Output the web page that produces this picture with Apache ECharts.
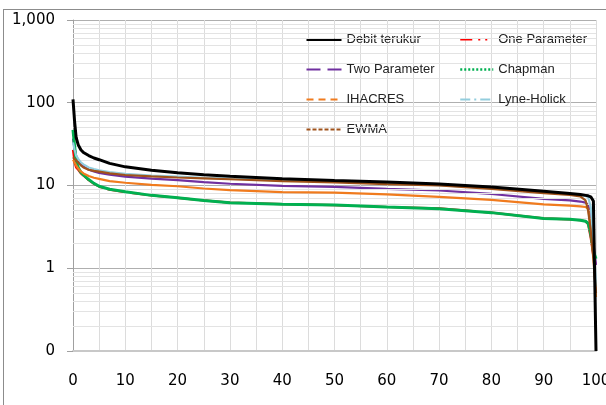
<!DOCTYPE html>
<html>
<head>
<meta charset="utf-8">
<script src="https://cdn.jsdelivr.net/npm/echarts@6/dist/echarts.min.js"></script>
<style>
  html, body { margin: 0; padding: 0; background: #fff; }
  #wrap { position: relative; width: 606px; height: 405px; overflow: hidden; }
  #chart { position: absolute; left: 0; top: 0; width: 606px; height: 405px; }
  #frame { position: absolute; left: 3px; top: 9px; width: 700px; height: 500px;
           border-left: 1px solid #8c8c8c; border-top: 1px solid #8c8c8c; pointer-events: none; }
</style>
</head>
<body>
<div id="wrap"><div id="chart"></div><div id="frame"></div></div>
<script>
// Exceedance probability (%) shared by every curve
const exceedance = [0, 0.3, 0.6, 1, 1.5, 2, 3, 4, 5, 7, 10, 15, 20, 25, 30, 40, 50, 60, 70, 80, 90, 95, 97, 98, 98.5, 99, 99.5, 100];

// Discharge (m3/s) for each curve
const debitTerukur = [110, 60, 38, 31, 27, 25, 23, 21.5, 20.5, 18.5, 16.8, 15.3, 14.3, 13.5, 12.9, 12.1, 11.5, 11.0, 10.4, 9.6, 8.5, 8.0, 7.8, 7.6, 7.5, 7.3, 6.5, 0.1];
const oneParameter = [27, 19, 16.5, 15.5, 14, 13.2, 11.6, 10.5, 9.7, 8.9, 8.3, 7.6, 7.1, 6.6, 6.2, 5.95, 5.8, 5.5, 5.3, 4.7, 4.0, 3.9, 3.8, 3.7, 3.4, 2.3, 1.4, 1.1];
const twoParameter = [37, 28, 23, 20, 18, 17, 15.5, 14.8, 14.2, 13.5, 12.8, 12.1, 11.6, 11.0, 10.5, 9.9, 9.6, 9.1, 8.7, 7.9, 6.9, 6.6, 6.4, 6.2, 5.8, 4.0, 2.0, 1.1];
const chapman = [47, 30, 20, 16.5, 14.5, 13.4, 11.8, 10.6, 9.8, 9.0, 8.4, 7.6, 7.1, 6.6, 6.2, 5.95, 5.8, 5.5, 5.25, 4.7, 4.0, 3.9, 3.8, 3.7, 3.5, 2.6, 1.6, 1.3];
const ihacres = [20.5, 19, 17.5, 16, 14.8, 14, 13, 12.4, 12.0, 11.3, 10.8, 10.2, 9.8, 9.2, 8.8, 8.3, 8.2, 7.8, 7.3, 6.7, 5.9, 5.7, 5.6, 5.5, 5.2, 3.2, 1.5, 0.45];
const lyneHolick = [33, 27, 23, 21, 19, 18, 16.5, 15.8, 15.3, 14.5, 13.8, 13.2, 12.8, 12.4, 12.1, 11.6, 11.1, 10.6, 10.1, 9.3, 8.3, 7.9, 7.7, 7.5, 7.2, 5.5, 2.2, 0.6];
const ewma = [22, 21, 20, 19, 17.5, 16.5, 15.5, 15, 14.7, 14.0, 13.4, 12.9, 12.5, 12.2, 11.9, 11.3, 10.9, 10.4, 10.0, 9.1, 8.1, 7.7, 7.4, 6.6, 5.0, 2.8, 1.3, 0.5];

// Axis ticks
const xTicks = [0, 10, 20, 30, 40, 50, 60, 70, 80, 90, 100];
const yTicks = [0.1, 1, 10, 100, 1000];
// Minor log grid values (2..9 in each decade)
const minorGrid = [0.2,0.3,0.4,0.5,0.6,0.7,0.8,0.9, 2,3,4,5,6,7,8,9, 20,30,40,50,60,70,80,90, 200,300,400,500,600,700,800,900];

const pairs = vals => exceedance.map((x, i) => [x, vals[i]]);

const curves = [
  { name: 'Debit terukur', data: debitTerukur, color: '#000000', width: 3, z: 10, legendType: 'solid', legendWidth: 3 },
  { name: 'One Parameter', data: oneParameter, color: '#FF0000', width: 2.2, z: 3, legendType: [12, 6, 2, 5, 2, 6], legendWidth: 2 },
  { name: 'Two Parameter', data: twoParameter, color: '#7030A0', width: 2.2, z: 4, legendType: [14, 7], legendWidth: 2 },
  { name: 'Chapman', data: chapman, color: '#00B050', width: 3, z: 5, legendType: [2, 2], legendWidth: 2.5 },
  { name: 'IHACRES', data: ihacres, color: '#F07B1E', width: 2.2, z: 6, legendType: [7, 5], legendWidth: 2 },
  { name: 'Lyne-Holick', data: lyneHolick, color: '#93CDDD', width: 2.2, z: 7, legendType: [10, 4, 2, 4], legendWidth: 2 },
  { name: 'EWMA', data: ewma, color: '#A0521A', width: 2.2, z: 8, legendType: [4, 2], legendWidth: 2 }
];

const series = curves.map(c => ({
  name: c.name,
  type: 'line',
  data: pairs(c.data),
  showSymbol: false,
  symbol: 'none',
  z: c.z,
  color: c.color,
  lineStyle: { color: c.color, width: c.width, type: 'solid' },
  emphasis: { disabled: true },
  animation: false
}));

// Light minor grid lines for the log axis
series.push({
  name: 'minor-grid',
  type: 'line',
  data: [],
  z: 1,
  silent: true,
  animation: false,
  markLine: {
    silent: true,
    symbol: ['none', 'none'],
    label: { show: false },
    lineStyle: { color: '#E3E3E3', width: 1, type: 'solid' },
    emphasis: { disabled: true },
    data: minorGrid.map(v => ({ yAxis: v })),
    animation: false
  }
});

// Legend entries: dashed line samples, no marker
const legendItem = c => ({
  name: c.name,
  itemStyle: { color: 'rgba(0,0,0,0)', borderWidth: 0, opacity: 0 },
  lineStyle: { color: c.color, width: c.legendWidth, type: c.legendType, opacity: 1 }
});

const legendCommon = {
  orient: 'vertical',
  itemWidth: 35,
  itemHeight: 14,
  itemGap: 17,
  padding: 0,
  selectedMode: false,
  textStyle: { fontFamily: 'Liberation Sans', fontSize: 13, color: '#222' }
};

const chart = echarts.init(document.getElementById('chart'), null, { renderer: 'canvas' });
chart.setOption({
  animation: false,
  backgroundColor: '#ffffff',
  grid: { left: 73, right: 10, top: 20, bottom: 54, containLabel: false, outerBoundsMode: 'none' },
  legend: [
    Object.assign({}, legendCommon, {
      left: 305, top: 33,
      data: [curves[0], curves[2], curves[4], curves[6]].map(legendItem)
    }),
    Object.assign({}, legendCommon, {
      left: 459, top: 33, itemWidth: 33,
      data: [curves[1], curves[3], curves[5]].map(legendItem)
    })
  ],
  xAxis: {
    type: 'value',
    min: 0,
    max: 100,
    interval: 5,
    axisLine: { show: true, onZero: false, lineStyle: { color: '#C8C8C8', width: 2 } },
    axisTick: { show: false },
    axisLabel: {
      margin: 23,
      fontFamily: 'DejaVu Sans',
      fontSize: 15,
      color: '#000',
      formatter: v => (xTicks.indexOf(v) >= 0 ? String(v) : '')
    },
    splitLine: { show: true, lineStyle: { color: '#DCDCDC', width: 1 } }
  },
  yAxis: {
    type: 'log',
    logBase: 10,
    min: yTicks[0],
    max: yTicks[yTicks.length - 1],
    axisLine: { show: true, lineStyle: { color: '#A0A0A0', width: 1 } },
    axisTick: { show: true, inside: false, length: 6, lineStyle: { color: '#A0A0A0' } },
    axisLabel: {
      margin: 18,
      fontFamily: 'DejaVu Sans',
      fontSize: 15,
      color: '#000',
      formatter: v => (v < 1 ? '0' : Math.round(v).toLocaleString('en-US'))
    },
    splitLine: { show: true, lineStyle: { color: '#AFAFAF', width: 1 } }
  },
  series: series
});
</script>
</body>
</html>
